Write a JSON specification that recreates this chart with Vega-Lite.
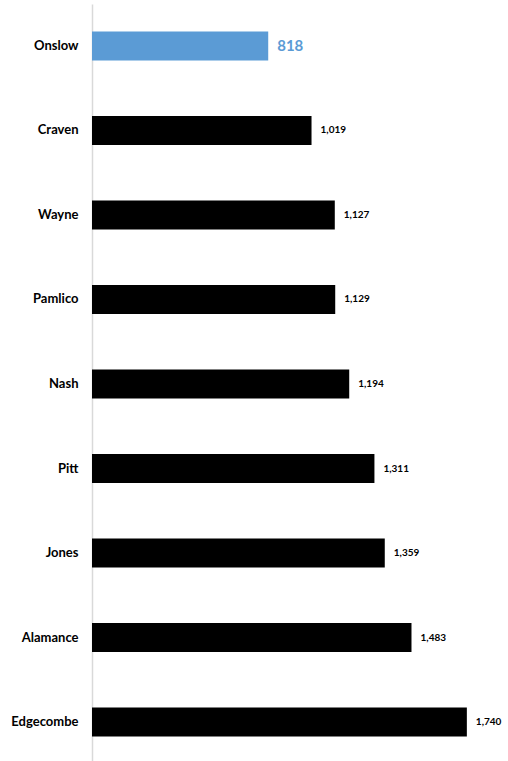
{
  "$schema": "https://vega.github.io/schema/vega-lite/v6.json",
  "autosize": "none",
  "padding": {"left": 92, "top": 4, "right": 0, "bottom": 0},
  "width": 416,
  "height": 760,
  "background": "white",
  "data": {"values": [
    {"County": "Onslow", "Value": 818},
    {"County": "Craven", "Value": 1019},
    {"County": "Wayne", "Value": 1127},
    {"County": "Pamlico", "Value": 1129},
    {"County": "Nash", "Value": 1194},
    {"County": "Pitt", "Value": 1311},
    {"County": "Jones", "Value": 1359},
    {"County": "Alamance", "Value": 1483},
    {"County": "Edgecombe", "Value": 1740}
  ]},
  "encoding": {
    "y": {"field": "County", "type": "nominal", "sort": {"field": "Value", "order": "ascending"},
      "scale": {"paddingInner": 0.657, "paddingOuter": 0.325},
      "axis": {"title": null, "ticks": false, "domain": true, "domainColor": "#d9d9d9", "domainWidth": 1.5,
        "labelFont": "Lato", "labelFontWeight": "bold", "labelFontSize": 13, "labelColor": "#000000", "labelPadding": 14}},
    "x": {"field": "Value", "type": "quantitative", "scale": {"domain": [0, 1931]}, "axis": null}
  },
  "layer": [
    {"mark": {"type": "bar"},
     "encoding": {"color": {"condition": {"test": "datum.County === 'Onslow'", "value": "#5B9BD5"}, "value": "#000000"}}},
    {"mark": {"type": "text", "align": "left", "baseline": "middle", "dx": 9, "font": "Lato", "fontWeight": "bold"},
     "encoding": {
       "text": {"field": "Value", "type": "quantitative", "format": ","},
       "color": {"condition": {"test": "datum.County === 'Onslow'", "value": "#5B9BD5"}, "value": "#000000"},
       "size": {"condition": {"test": "datum.County === 'Onslow'", "value": 15}, "value": 10}
     }}
  ],
  "config": {"view": {"stroke": null}}
}
